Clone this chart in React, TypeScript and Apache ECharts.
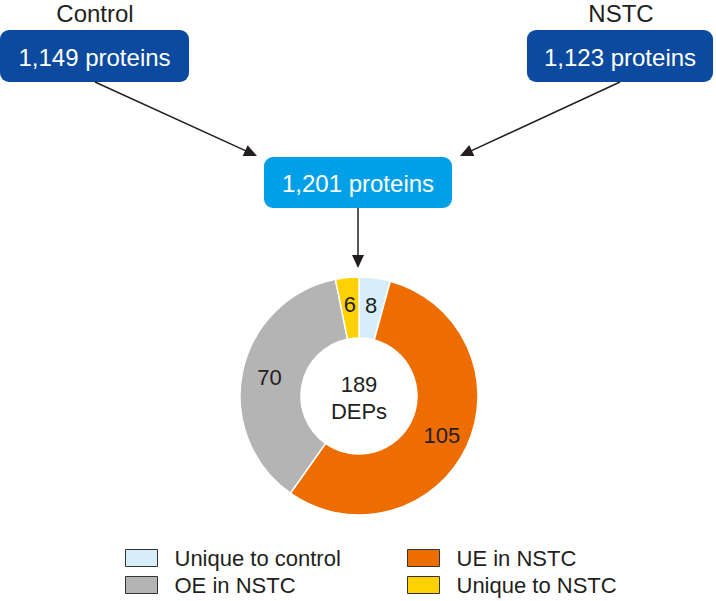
import React, { useEffect, useRef } from "react";
import * as echarts from "echarts";

const categories = ["Unique to control", "UE in NSTC", "OE in NSTC", "Unique to NSTC"];
const counts = [8, 105, 70, 6];
const sliceColors = ["#D6EEF9", "#EE6D00", "#B4B4B4", "#FFD100"];
const sourceGroups = ["Control", "NSTC"];
const sourceCounts = ["1,149 proteins", "1,123 proteins"];
const mergedCount = "1,201 proteins";
const centerLabel = "DEPs";

const FONT = "'Liberation Sans', Arial, Helvetica, sans-serif";
const TXT = "#231F20";

function arrow(x1: number, y1: number, x2: number, y2: number): any[] {
  const len = 13;
  const half = 6;
  const dx = x2 - x1;
  const dy = y2 - y1;
  const d = Math.sqrt(dx * dx + dy * dy);
  const ux = dx / d;
  const uy = dy / d;
  const bx = x2 - ux * len;
  const by = y2 - uy * len;
  const px = -uy;
  const py = ux;
  return [
    {
      type: "line",
      shape: { x1, y1, x2: bx + ux * 2, y2: by + uy * 2 },
      style: { stroke: TXT, lineWidth: 1.5 },
      silent: true,
    },
    {
      type: "polygon",
      shape: {
        points: [
          [x2, y2],
          [bx + px * half, by + py * half],
          [bx - px * half, by - py * half],
        ],
      },
      style: { fill: TXT },
      silent: true,
    },
  ];
}

function box(x: number, y: number, w: number, h: number, color: string, text: string): any[] {
  return [
    {
      type: "rect",
      shape: { x, y, width: w, height: h, r: 9 },
      style: { fill: color },
      silent: true,
    },
    {
      type: "text",
      x: x + w / 2,
      y: y + h / 2 + 1,
      style: {
        text,
        fill: "#FFFFFF",
        font: `24px ${FONT}`,
        textAlign: "center",
        textVerticalAlign: "middle",
      },
      silent: true,
    },
  ];
}

export default function App() {
  const ref = useRef<HTMLDivElement>(null);

  useEffect(() => {
    if (!ref.current) return;
    const chart = echarts.init(ref.current, undefined, { renderer: "svg" });
    const total = counts.reduce((a, b) => a + b, 0);
    const data = categories.map((name, i) => ({
      name,
      value: counts[i],
      itemStyle: { color: sliceColors[i] },
    }));

    const graphics: any[] = [
      {
        type: "text",
        x: 95,
        y: 13,
        style: { text: sourceGroups[0], fill: TXT, font: `24px ${FONT}`, textAlign: "center", textVerticalAlign: "middle" },
        silent: true,
      },
      {
        type: "text",
        x: 621,
        y: 13,
        style: { text: sourceGroups[1], fill: TXT, font: `24px ${FONT}`, textAlign: "center", textVerticalAlign: "middle" },
        silent: true,
      },
      ...box(0, 30, 189, 52, "#0B4A9E", sourceCounts[0]),
      ...box(527, 30, 186, 52, "#0B4A9E", sourceCounts[1]),
      ...box(264, 157, 188, 51, "#00A0E9", mergedCount),
      ...arrow(95, 82, 257, 156),
      ...arrow(620, 82, 460, 156),
      ...arrow(358, 208, 358, 268),
      {
        type: "text",
        x: 359,
        y: 398,
        style: {
          text: `${total}\n${centerLabel}`,
          fill: TXT,
          font: `22px ${FONT}`,
          lineHeight: 27,
          textAlign: "center",
          textVerticalAlign: "middle",
        },
        silent: true,
      },
    ];

    const legendCommon = {
      type: "plain",
      orient: "vertical",
      icon: "rect",
      itemWidth: 32,
      itemHeight: 17,
      itemGap: 5,
      padding: 0,
      selectedMode: false,
      bottom: 5,
      itemStyle: { borderColor: "#333333", borderWidth: 1 },
      textStyle: { fontSize: 22, fontFamily: FONT, color: TXT, lineHeight: 22, padding: [0, 0, 0, 12] },
    };

    chart.setOption({
      animation: false,
      legend: [
        { ...legendCommon, left: 125, data: [categories[0], categories[2]] },
        { ...legendCommon, left: 407, data: [categories[1], categories[3]] },
      ],
      series: [
        {
          type: "pie",
          center: [359, 396],
          radius: [58, 119],
          startAngle: 90,
          clockwise: true,
          silent: true,
          avoidLabelOverlap: false,
          itemStyle: { borderColor: "#FFFFFF", borderWidth: 1.5 },
          label: {
            show: true,
            position: "inside",
            formatter: "{c}",
            fontSize: 22,
            fontFamily: FONT,
            color: TXT,
          },
          labelLine: { show: false },
          emphasis: { disabled: true },
          data,
        },
      ],
      graphic: graphics,
    });

    return () => chart.dispose();
  }, []);

  return (
    <div
      ref={ref}
      style={{ position: "absolute", left: 0, top: 0, width: 716, height: 601, background: "#FFFFFF" }}
    />
  );
}
